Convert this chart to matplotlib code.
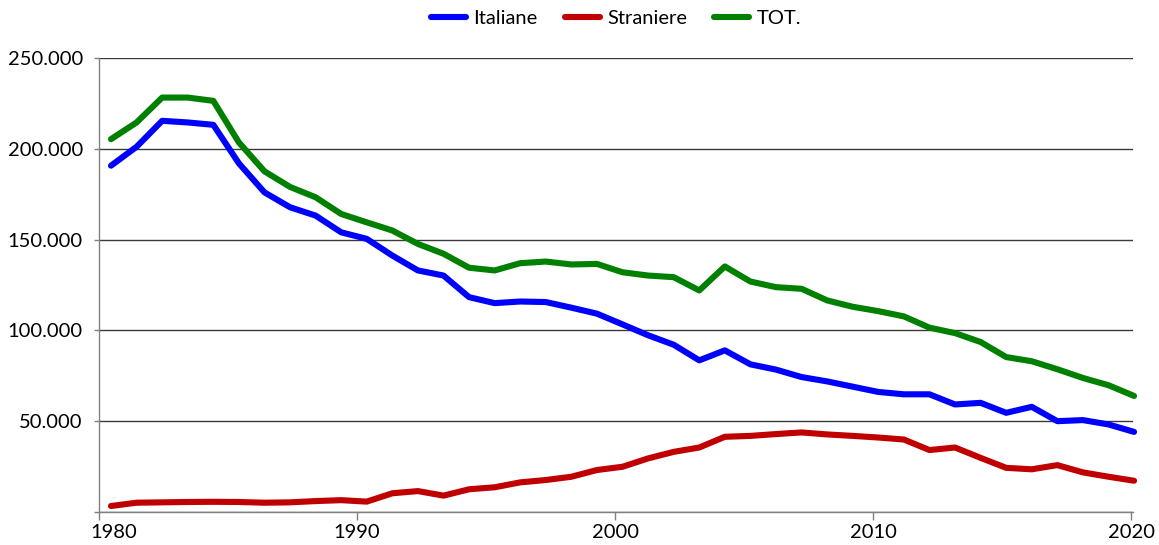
import numpy as np
import matplotlib
matplotlib.use("Agg")
import matplotlib.pyplot as plt
import matplotlib.transforms as mtransforms
from matplotlib.ticker import FuncFormatter

plt.rcParams['font.family'] = ['Lato', 'DejaVu Sans']

# Data (number of cases per year)
years = np.arange(1980, 2021)

italiane = [190.7, 201.1, 215.4, 214.5, 213.2, 192.0, 176.0, 167.8, 163.2, 154.0,
            150.4, 141.2, 133.0, 130.2, 118.3, 115.0, 115.9, 115.6, 112.5, 109.2,
            103.3, 97.3, 92.1, 83.5, 89.0, 81.3, 78.4, 74.3, 71.9, 69.0,
            66.1, 64.8, 64.8, 59.2, 60.1, 54.6, 57.9, 50.0, 50.6, 48.2, 44.1]

straniere = [3.3, 5.1, 5.3, 5.5, 5.6, 5.5, 5.1, 5.3, 6.0, 6.5,
             5.7, 10.3, 11.5, 9.0, 12.5, 13.6, 16.3, 17.6, 19.4, 23.1,
             24.9, 29.5, 33.1, 35.5, 41.4, 41.9, 42.9, 43.8, 42.7, 41.9,
             41.0, 39.9, 34.1, 35.5, 29.8, 24.3, 23.5, 25.8, 21.8, 19.4, 17.2]

totale = [205.3, 214.5, 228.2, 228.2, 226.4, 203.5, 187.6, 179.0, 173.3, 164.1,
          159.5, 155.0, 147.6, 142.2, 134.5, 133.0, 137.0, 137.9, 136.3, 136.6,
          132.0, 130.2, 129.3, 122.0, 135.2, 126.9, 123.8, 122.9, 116.5, 113.0,
          110.6, 107.7, 101.5, 98.5, 93.6, 85.3, 83.0, 78.6, 73.8, 69.8, 63.9]

series = [("Italiane", italiane, "#0000ff"),
          ("Straniere", straniere, "#c00000"),
          ("TOT.", totale, "#008000")]

year_ticks = [1980, 1990, 2000, 2010, 2020]
y_ticks = [0, 50000, 100000, 150000, 200000, 250000]

fig = plt.figure(figsize=(11.59, 5.45), dpi=100)
ax = fig.add_axes([0.0854, 0.0606, 0.8922, 0.833])

for name, vals, col in series:
    ax.plot(years, np.array(vals) * 1000, color=col, lw=4.4, label=name,
            solid_capstyle='round', solid_joinstyle='round', clip_on=False, zorder=3)

# the source chart puts the year ticks slightly left of the data points
ax.set_xlim(1979.53, 2019.96)
ax.set_xticks([1979.53 + 10.088 * i for i in range(len(year_ticks))])
ax.set_xticklabels([str(y) for y in year_ticks])

ax.set_ylim(0, 250000)
ax.set_yticks(y_ticks)
ax.yaxis.set_major_formatter(FuncFormatter(
    lambda v, p: "" if v == 0 else f"{int(v):,}".replace(",", ".")))

ax.grid(True, axis='y', color='#3a3a3a', lw=1.0, zorder=1)
ax.set_axisbelow(True)
for s in ['top', 'right']:
    ax.spines[s].set_visible(False)
for s in ['left', 'bottom']:
    ax.spines[s].set_color('#808080')
    ax.spines[s].set_linewidth(1.0)

ax.tick_params(axis='y', length=3.6, width=1, color='#808080', pad=8, labelsize=14.5)
ax.tick_params(axis='x', length=5.8, width=1, color='#808080', pad=2.5, labelsize=14.5)

# first year label sits a bit to the right of its tick in the original
first = ax.get_xticklabels()[0]
first.set_transform(first.get_transform() +
                    mtransforms.ScaledTranslation(15 / 100, 0, fig.dpi_scale_trans))

ax.legend(loc='center', bbox_to_anchor=(0.5, 1.086), ncol=3, frameon=False,
          fontsize=14.5, handlelength=1.75, handletextpad=0.35, columnspacing=1.35)

fig.savefig("out.png", dpi=100)
